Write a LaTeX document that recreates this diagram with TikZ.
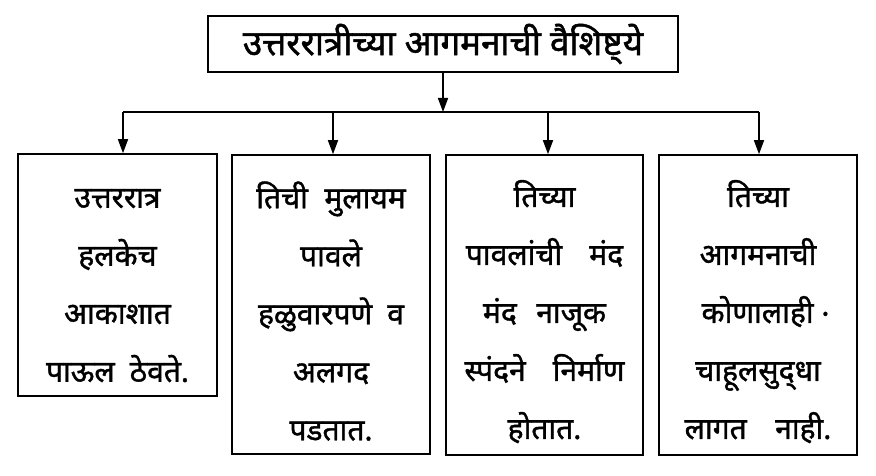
\documentclass[tikz,border=0pt]{standalone}
\usepackage{fontspec}
\newfontfamily\deva[Script=Devanagari, FakeBold=1.3]{Noto Sans}
\usetikzlibrary{arrows.meta}
\newcommand{\firstline}{\rule{0pt}{40pt}}
\newcommand{\gap}[1]{\hspace{#1em}}
\begin{document}
\begin{tikzpicture}[x=1pt,y=-1pt,
  box/.style={draw, line width=1.6pt, inner sep=0pt, align=center,
    font=\deva\fontsize{30}{58}\selectfont},
  arr/.style={line width=1.6pt, -{Triangle[length=14pt,width=10pt]}},
  bus/.style={line width=1.6pt}]
\useasboundingbox (0,0) rectangle (876,476);
\node[box, minimum width=470pt, minimum height=56pt, font=\deva\fontsize{35}{40}\selectfont] (top) at (443,44) {उत्तररात्रीच्या आगमनाची वैशिष्ट्ये};
\node[box, minimum width=199pt, minimum height=242pt] (b1) at (117.5,275) {\firstline उत्तररात्र\\हलकेच\\आकाशात\\पाऊल\enspace ठेवते.};
\node[box, minimum width=198pt, minimum height=299pt] (b2) at (331,304.5) {\firstline तिची\gap{0.55}मुलायम\\पावले\\हळुवारपणे\enspace व\\अलगद\\पडतात.};
\node[box, minimum width=197pt, minimum height=300pt] (b3) at (544.5,305) {\firstline तिच्या\\पावलांची\gap{0.9}मंद\\मंद\gap{0.65}नाजूक\\स्पंदने\gap{0.9}निर्माण\\होतात.};
\node[box, minimum width=198pt, minimum height=300pt] (b4) at (758,305) {\firstline तिच्या\\आगमनाची\\\enspace कोणालाही \raisebox{-0.1ex}{·}\\चाहूलसुद्‌धा\\लागत\gap{0.95}नाही.};
\coordinate (m) at (443,112);
\coordinate (j1) at (123,112);
\coordinate (j2) at (333,112);
\coordinate (j3) at (548,112);
\coordinate (j4) at (759,112);
\draw[arr] (top) -- (m);
\draw[bus] (j1) -- (j4);
\draw[arr] (j1) -- (j1 |- b1.north);
\draw[arr] (j2) -- (j2 |- b2.north);
\draw[arr] (j3) -- (j3 |- b3.north);
\draw[arr] (j4) -- (j4 |- b4.north);
\end{tikzpicture}
\end{document}
